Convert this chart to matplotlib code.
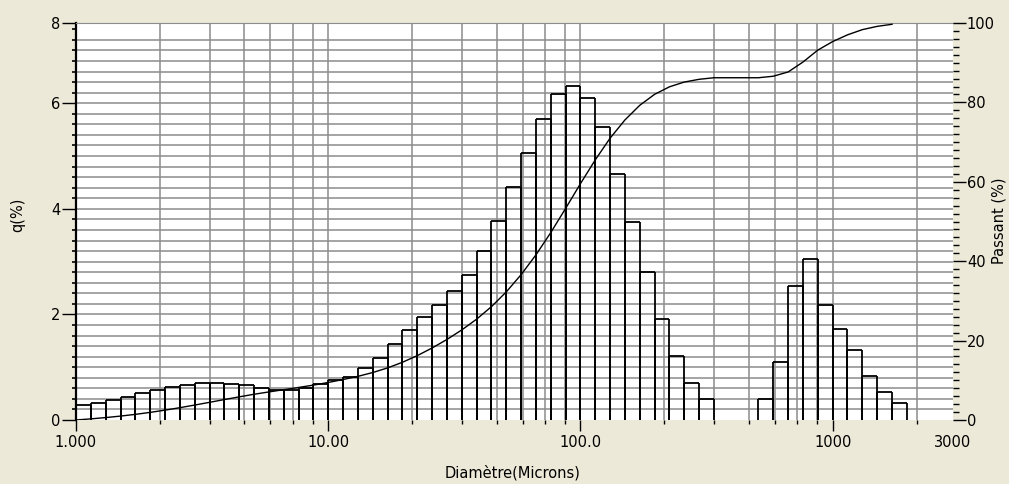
import matplotlib.pyplot as plt
import numpy as np
from matplotlib.ticker import NullFormatter

# q(%) par classe granulométrique (17 classes par décade à partir de 1 µm)
q_values = [0.29, 0.33, 0.38, 0.44, 0.51, 0.57, 0.63, 0.67, 0.70, 0.71,
            0.69, 0.66, 0.60, 0.57, 0.57, 0.60, 0.68,
            0.75, 0.81, 0.98, 1.18, 1.44, 1.70, 1.95, 2.18, 2.44,
            2.75, 3.20, 3.77, 4.42, 5.06, 5.70, 6.18, 6.33, 6.09,
            5.55, 4.66, 3.75, 2.80, 1.92, 1.22, 0.70, 0.40, 0.0, 0.0, 0.0,
            0.39, 1.09, 2.54, 3.05, 2.18, 1.72, 1.33, 0.84, 0.53, 0.33]

x_ticks = [1, 10, 100, 1000, 3000]
x_tick_labels = ["1.000", "10.00", "100.0", "1000", "3000"]
q_ticks = [0, 2, 4, 6, 7.52]
q_tick_labels = ["0", "2", "4", "6", "8"]
passant_ticks = [0, 20, 40, 60, 80, 100]

q = np.array(q_values)
edges = np.logspace(0, len(q) / 17, len(q) + 1)
left, right = edges[:-1], edges[1:]

# courbe passant = cumul normalisé, aux bornes supérieures des classes
passant = np.concatenate([[0], np.cumsum(q) / q.sum() * 100])

bg = "#ECE9D8"
grid_c = "#8c8c8c"
fs = 10.5

fig = plt.figure(figsize=(10.09, 4.84), dpi=100, facecolor=bg)
ax = fig.add_axes([76 / 1009, 64 / 484, 877 / 1009, 397 / 484])
ax.set_facecolor("white")
ax.set_xscale("log")
ax.set_xlim(1, 3000)
ax.set_ylim(0, 7.52)

# grille
mult = [2.15, 3.4, 4.65, 5.9, 7.25, 8.7]
xgrid = [m * 10 ** d for d in range(3) for m in mult] + [10, 100, 1000, 2150]
for xv in xgrid:
    ax.axvline(xv, color=grid_c, lw=1.1, zorder=0)
for yv in np.arange(0.2, 7.3, 0.2):
    ax.axhline(yv, color=grid_c, lw=1.1, zorder=0)

mask = q > 0
ax.vlines(left[mask], 0, q[mask], color="black", lw=1.3, zorder=2)
ax.vlines(right[mask], 0, q[mask], color="black", lw=1.3, zorder=2)
ax.hlines(q[mask], left[mask], right[mask], color="black", lw=1.3, zorder=2)

ax.set_xticks(x_ticks, x_tick_labels)
ax.set_xticks(xgrid, minor=True)
ax.xaxis.set_minor_formatter(NullFormatter())
ax.xaxis.get_major_ticks()[-1].tick1line.set_visible(False)
ax.tick_params(axis="x", which="major", length=8, width=1, labelsize=fs, pad=3)
ax.tick_params(axis="x", which="minor", length=3, width=1)

ax.set_yticks(q_ticks, q_tick_labels)
ax.set_yticks(np.arange(0.2, 7.5, 0.2), minor=True)
ax.tick_params(axis="y", which="major", length=10, width=1, labelsize=fs, pad=1)
ax.tick_params(axis="y", which="minor", length=3, width=1.2)

for s in ["right", "bottom"]:
    ax.spines[s].set_visible(False)
ax.spines["top"].set_color(grid_c)
ax.spines["left"].set_linewidth(1.6)

ax2 = ax.twinx()
ax2.set_ylim(0, 100)
ax2.plot(edges[:-1], passant[:-1], color="black", lw=1)
ax2.set_yticks(passant_ticks)
ax2.set_yticks(np.arange(0, 101, 2), minor=True)
ax2.tick_params(axis="y", which="major", length=9, width=1, labelsize=fs, pad=1)
ax2.tick_params(axis="y", which="minor", length=4, width=1)
for s in ax2.spines.values():
    s.set_visible(False)

fig.text(18 / 1009, 1 - 215 / 484, "q(%)", rotation=90, ha="center", va="center", fontsize=fs)
fig.text(1007 / 1009, 1 - 221 / 484, "Passant (%)", rotation=90, ha="right", va="center", fontsize=fs)
fig.text(513 / 1009, 1 - 473 / 484, "Diamètre(Microns)", ha="center", va="center", fontsize=fs)

fig.savefig("out.png", dpi=100, facecolor=bg)
